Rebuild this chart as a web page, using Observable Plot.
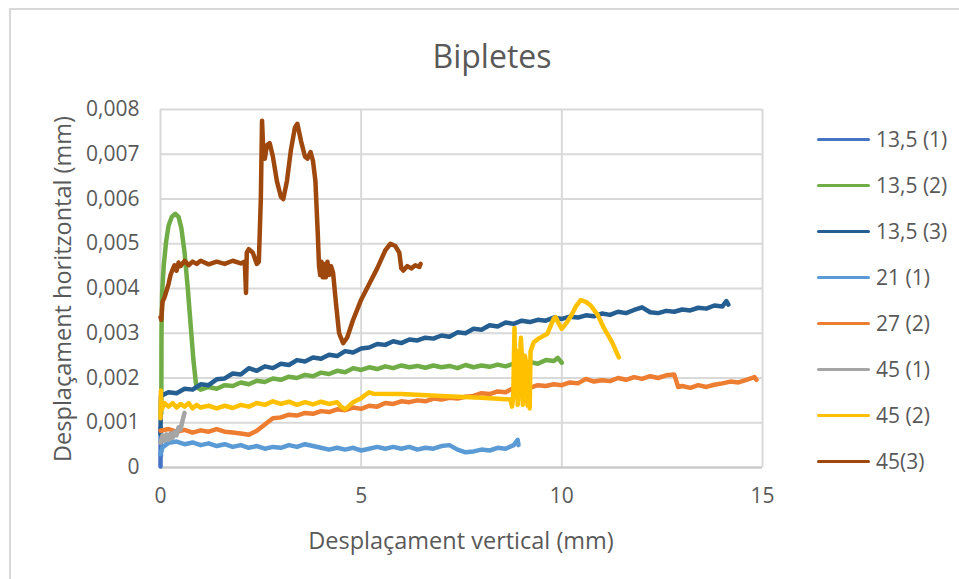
<!DOCTYPE html>
<html><head><meta charset="utf-8">
<script src="https://cdn.jsdelivr.net/npm/d3@7"></script>
<script src="https://cdn.jsdelivr.net/npm/@observablehq/plot@0.6"></script>
<style>
body{margin:0;background:#fff;overflow:hidden;font-family:"Open Sans",sans-serif;color:#595959}
#wrap{position:relative;width:959px;height:579px;overflow:hidden;background:#fff}
#frame{position:absolute;left:9px;top:8px;width:1000px;height:700px;border:2px solid #d9d9d9;box-sizing:border-box}
#chart{position:absolute;left:0;top:0}
.t{position:absolute;white-space:nowrap;color:#595959}
#title{left:492px;top:55px;transform:translate(-50%,-50%);font-size:32px}
#xt{left:461px;top:540px;transform:translate(-50%,-50%);font-size:23.5px}
#yt{left:62px;top:289px;transform:translate(-50%,-50%) rotate(-90deg);font-size:23.5px}
.leg{position:absolute;left:817px;height:24px;display:flex;align-items:center;font-size:21px;white-space:nowrap}
.leg span.ln{display:inline-block;width:53px;height:3px;border-radius:2px;margin-right:6px}
</style></head>
<body><div id="wrap"><div id="frame"></div><div id="chart"></div>
<div class="t" id="title">Bipletes</div>
<div class="t" id="xt">Desplaçament vertical (mm)</div>
<div class="t" id="yt">Desplaçament horitzontal (mm)</div>
</div>
<script>
// Series names and colours
const seriesNames = ["13,5 (1)","13,5 (2)","13,5 (3)","21 (1)","27 (2)","45 (1)","45 (2)","45(3)"];
const seriesColors = ["#4472C4","#70AD47","#255E91","#5B9BD5","#ED7D31","#A5A5A5","#FFC000","#9E480E"];
// Axis ticks
const xTicks = [0,5,10,15];
const xTickLabels = ["0","5","10","15"];
const yTicks = [0,1,2,3,4,5,6,7,8]; // thousandths of mm
const yTickLabels = ["0","0,001","0,002","0,003","0,004","0,005","0,006","0,007","0,008"];

// [vertical displacement (mm), horizontal displacement (×0.001 mm)]
const s13_5_1 = [[0,0.02],[0.005,0.9],[0.01,0.25],[0.015,0.6]];
const s13_5_2 = [[0.02,1.20],[0.025,3.0],[0.04,3.9],[0.08,4.5],[0.14,5.05],[0.2,5.4],[0.28,5.6],[0.37,5.67],[0.45,5.6],[0.52,5.35],[0.6,4.8],[0.68,4.0],[0.75,3.2],[0.82,2.4],[0.88,1.9],
 [0.9,1.80],[1.0,1.74],[1.2,1.80],[1.4,1.76],[1.6,1.84],[1.8,1.82],[2.0,1.90],[2.2,1.86],[2.4,1.94],[2.6,1.91],[2.8,1.99],[3.0,1.96],[3.2,2.03],[3.4,2.00],[3.6,2.07],[3.8,2.04],[4.0,2.12],[4.2,2.09],[4.4,2.16],[4.6,2.13],[4.8,2.22],[5.0,2.18],[5.2,2.24],[5.4,2.20],[5.6,2.26],[5.8,2.22],[6.0,2.28],[6.2,2.24],[6.4,2.27],[6.6,2.23],[6.8,2.28],[7.0,2.24],[7.2,2.27],[7.4,2.22],[7.6,2.29],[7.8,2.24],[8.0,2.28],[8.2,2.25],[8.4,2.30],[8.6,2.26],[8.8,2.32],[9.0,2.28],[9.2,2.36],[9.4,2.32],[9.6,2.40],[9.8,2.38],[9.9,2.45],[10.0,2.34]];
const s13_5_3 = [[0,0.75],[0.01,1.60],[0.2,1.68],[0.4,1.66],[0.6,1.76],[0.8,1.74],[1.0,1.86],[1.2,1.84],[1.4,1.97],[1.6,1.99],[1.8,2.10],[2.0,2.08],[2.2,2.22],[2.4,2.16],[2.6,2.26],[2.8,2.22],[3.0,2.32],[3.2,2.29],[3.4,2.40],[3.6,2.37],[3.8,2.46],[4.0,2.43],[4.2,2.52],[4.4,2.49],[4.6,2.60],[4.8,2.57],[5.0,2.66],[5.2,2.68],[5.4,2.76],[5.6,2.74],[5.8,2.82],[6.0,2.78],[6.2,2.86],[6.4,2.84],[6.6,2.90],[6.8,2.88],[7.0,2.95],[7.2,2.92],[7.4,3.02],[7.6,3.00],[7.8,3.10],[8.0,3.08],[8.2,3.18],[8.4,3.15],[8.6,3.24],[8.8,3.21],[9.0,3.28],[9.2,3.25],[9.4,3.30],[9.6,3.28],[9.8,3.35],[10.0,3.32],[10.2,3.37],[10.4,3.35],[10.6,3.40],[10.8,3.38],[11.0,3.44],[11.2,3.41],[11.4,3.48],[11.6,3.45],[11.8,3.52],[12.0,3.58],[12.2,3.47],[12.4,3.45],[12.6,3.50],[12.8,3.48],[13.0,3.53],[13.2,3.51],[13.4,3.57],[13.6,3.55],[13.8,3.62],[14.0,3.60],[14.1,3.72],[14.15,3.64]];
const s21_1 = [[0,0.30],[0.05,0.45],[0.2,0.55],[0.4,0.58],[0.6,0.52],[0.8,0.56],[1.0,0.50],[1.2,0.54],[1.4,0.48],[1.6,0.52],[1.8,0.46],[2.0,0.50],[2.2,0.44],[2.4,0.48],[2.6,0.42],[2.8,0.46],[3.0,0.44],[3.2,0.50],[3.4,0.46],[3.6,0.52],[3.8,0.48],[4.0,0.44],[4.2,0.40],[4.4,0.44],[4.6,0.40],[4.8,0.44],[5.0,0.38],[5.2,0.42],[5.4,0.46],[5.6,0.42],[5.8,0.46],[6.0,0.42],[6.2,0.46],[6.4,0.40],[6.6,0.44],[6.8,0.42],[7.0,0.48],[7.2,0.50],[7.4,0.40],[7.6,0.34],[7.8,0.36],[8.0,0.40],[8.2,0.38],[8.4,0.44],[8.6,0.42],[8.8,0.50],[8.9,0.62],[8.92,0.50]];
const s27_2 = [[0,0.82],[0.2,0.86],[0.4,0.80],[0.6,0.84],[0.8,0.78],[1.0,0.83],[1.2,0.80],[1.4,0.86],[1.6,0.80],[1.8,0.78],[2.0,0.76],[2.2,0.73],[2.4,0.82],[2.6,0.96],[2.8,1.10],[3.0,1.12],[3.2,1.18],[3.4,1.16],[3.6,1.22],[3.8,1.20],[4.0,1.26],[4.2,1.24],[4.4,1.30],[4.6,1.28],[4.8,1.34],[5.0,1.31],[5.2,1.38],[5.4,1.36],[5.6,1.44],[5.8,1.42],[6.0,1.48],[6.2,1.46],[6.4,1.50],[6.6,1.48],[6.8,1.54],[7.0,1.52],[7.2,1.56],[7.4,1.54],[7.6,1.58],[7.8,1.60],[8.0,1.66],[8.2,1.64],[8.4,1.70],[8.6,1.68],[8.8,1.78],[9.0,1.82],[9.2,1.78],[9.4,1.84],[9.6,1.82],[9.8,1.86],[10.0,1.84],[10.2,1.90],[10.4,1.88],[10.6,1.98],[10.8,1.92],[11.0,1.95],[11.2,1.93],[11.4,2.00],[11.6,1.96],[11.8,2.02],[12.0,1.98],[12.2,2.04],[12.4,2.00],[12.6,2.06],[12.8,2.08],[12.9,1.80],[13.0,1.82],[13.2,1.78],[13.4,1.84],[13.6,1.80],[13.8,1.85],[14.0,1.88],[14.2,1.92],[14.4,1.90],[14.6,1.96],[14.8,2.02],[14.85,1.96]];
const s45_1 = [[0,0.55],[0.05,0.72],[0.1,0.60],[0.15,0.74],[0.2,0.62],[0.25,0.76],[0.3,0.66],[0.35,0.80],[0.4,0.72],[0.45,0.90],[0.5,0.85],[0.55,1.05],[0.6,1.22]];
const s45_2 = [[0,1.10],[0.01,1.72],[0.02,1.28],[0.1,1.44],[0.2,1.36],[0.3,1.44],[0.4,1.34],[0.5,1.42],[0.6,1.36],[0.7,1.44],[0.8,1.32],[0.9,1.40],[1.0,1.34],[1.2,1.38],[1.4,1.32],[1.6,1.38],[1.8,1.33],[2.0,1.40],[2.2,1.36],[2.4,1.44],[2.6,1.40],[2.8,1.48],[3.0,1.42],[3.2,1.47],[3.4,1.40],[3.6,1.46],[3.8,1.41],[4.0,1.47],[4.2,1.42],[4.4,1.46],[4.5,1.36],[4.6,1.30],[4.8,1.46],[5.0,1.55],[5.1,1.62],[5.2,1.68],[5.3,1.65],[6.0,1.64],[7.0,1.60],[8.0,1.56],[8.72,1.52],[8.76,1.36],[8.79,1.62],[8.82,3.12],[8.84,1.80],[8.86,2.62],[8.88,2.10],[8.90,1.40],[8.92,1.62],[8.95,2.20],[8.98,2.90],[9.01,2.40],[9.03,1.40],[9.05,1.62],[9.08,2.50],[9.12,2.30],[9.15,1.38],[9.18,1.64],[9.20,1.32],[9.22,2.60],[9.30,2.80],[9.42,2.88],[9.64,2.99],[9.8,3.33],[9.85,3.36],[9.92,3.22],[10.0,3.10],[10.13,3.25],[10.25,3.42],[10.35,3.60],[10.47,3.74],[10.6,3.70],[10.72,3.62],[10.9,3.40],[11.04,3.13],[11.25,2.80],[11.42,2.46]];
const s45_3 = [[0,3.36],[0.02,3.30],[0.05,3.70],[0.1,3.80],[0.15,3.95],[0.2,4.10],[0.25,4.30],[0.3,4.42],[0.35,4.52],[0.4,4.40],[0.45,4.58],[0.5,4.50],[0.6,4.62],[0.7,4.52],[0.8,4.60],[0.9,4.55],[1.0,4.62],[1.2,4.54],[1.4,4.60],[1.6,4.55],[1.8,4.62],[2.0,4.56],[2.1,4.60],[2.13,3.90],[2.15,4.80],[2.2,4.88],[2.3,4.80],[2.4,4.55],[2.45,4.60],[2.5,6.00],[2.53,7.75],[2.56,7.10],[2.6,6.90],[2.65,7.20],[2.72,7.25],[2.8,6.95],[2.9,6.40],[3.0,6.05],[3.06,6.00],[3.15,6.40],[3.25,7.10],[3.35,7.60],[3.41,7.68],[3.5,7.30],[3.6,6.95],[3.66,6.90],[3.74,7.05],[3.8,6.85],[3.86,6.40],[3.92,5.20],[3.95,4.50],[3.98,4.30],[4.01,4.60],[4.04,4.25],[4.08,4.55],[4.12,4.25],[4.16,4.60],[4.20,4.30],[4.25,4.50],[4.30,4.35],[4.38,3.60],[4.45,3.00],[4.55,2.78],[4.65,2.90],[4.8,3.30],[5.0,3.75],[5.2,4.10],[5.4,4.45],[5.6,4.85],[5.73,5.00],[5.85,4.95],[5.95,4.80],[6.0,4.45],[6.05,4.40],[6.15,4.50],[6.25,4.45],[6.35,4.52],[6.45,4.48],[6.48,4.55]];

const seriesData = [s13_5_1,s13_5_2,s13_5_3,s21_1,s27_2,s45_1,s45_2,s45_3];
const rows = [];
seriesData.forEach((arr,i)=>arr.forEach(([x,y])=>rows.push({series:seriesNames[i],x,y})));

const chart = Plot.plot({
  width:959, height:579,
  marginLeft:160, marginRight:197, marginTop:109, marginBottom:112,
  style:{fontFamily:"'Open Sans',sans-serif",fontSize:"21px",color:"#595959",background:"transparent"},
  x:{domain:[0,15]},
  y:{domain:[0,8]},
  color:{domain:seriesNames,range:seriesColors},
  marks:[
    Plot.gridX(xTicks,{stroke:"#d9d9d9",strokeWidth:2,strokeOpacity:1}),
    Plot.gridY(yTicks,{stroke:"#d9d9d9",strokeWidth:2,strokeOpacity:1}),
    Plot.ruleY([0],{stroke:"#c8c8c8",strokeWidth:2}),
    Plot.axisX(xTicks,{tickSize:0,tickPadding:21,tickFormat:(d)=>xTickLabels[xTicks.indexOf(d)],label:null,fill:"#595959"}),
    Plot.axisY(yTicks,{tickSize:0,tickPadding:21,tickFormat:(d)=>yTickLabels[yTicks.indexOf(d)],label:null,fill:"#595959"}),
    Plot.line(rows,{x:"x",y:"y",z:"series",stroke:"series",strokeWidth:4.5,strokeLinejoin:"round",strokeLinecap:"round"})
  ]
});
document.getElementById("chart").appendChild(chart);

const wrap = document.getElementById("wrap");
seriesNames.forEach((n,i)=>{
  const d = document.createElement("div");
  d.className="leg";
  d.style.top = (139 + i*46 - 12) + "px";
  d.innerHTML = `<span class="ln" style="background:${seriesColors[i]}"></span><span>${n}</span>`;
  wrap.appendChild(d);
});
</script></body></html>
